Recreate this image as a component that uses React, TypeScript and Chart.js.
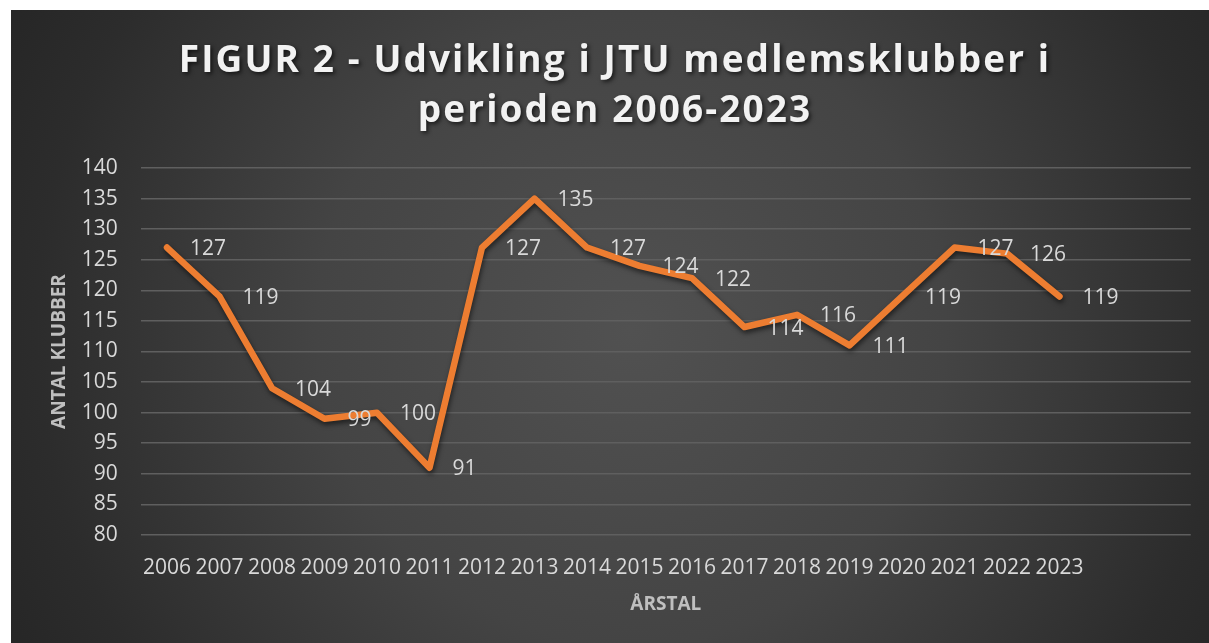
import React, { useEffect, useRef } from 'react';
import { Chart, registerables } from 'chart.js';

Chart.register(...registerables);

// ---- data ----
const years: string[] = [
  '2006', '2007', '2008', '2009', '2010', '2011', '2012', '2013', '2014',
  '2015', '2016', '2017', '2018', '2019', '2020', '2021', '2022', '2023', '', '',
];
const clubs: (number | null)[] = [
  127, 119, 104, 99, 100, 91, 127, 135, 127, 124, 122, 114, 116, 111, 119, 127, 126, 119, null, null,
];
const yMin = 80;
const yMax = 140;
const yStep = 5;
const titleLines: string[] = ['FIGUR 2 - Udvikling i JTU medlemsklubber i', 'perioden 2006-2023'];
const yTitle = 'ANTAL KLUBBER';
const xTitle = 'ÅRSTAL';

const FONT = "'Open Sans', 'Noto Sans', sans-serif";

const bgPlugin = {
  id: 'bgGradient',
  beforeDraw(chart: any) {
    const { ctx, width, height } = chart;
    ctx.save();
    const g = ctx.createRadialGradient(620, 320, 0, 620, 320, 700);
    g.addColorStop(0, '#515151');
    g.addColorStop(0.45, '#444444');
    g.addColorStop(0.85, '#2c2c2c');
    g.addColorStop(1, '#262626');
    ctx.fillStyle = g;
    ctx.fillRect(0, 0, width, height);
    ctx.restore();
  },
};

const titlePlugin = {
  id: 'spacedTitle',
  afterDraw(chart: any) {
    const { ctx } = chart;
    ctx.save();
    ctx.font = `bold 37px ${FONT}`;
    (ctx as any).letterSpacing = '2.1px';
    ctx.textAlign = 'center';
    ctx.textBaseline = 'alphabetic';
    ctx.fillStyle = '#f2f2f2';
    ctx.shadowColor = 'rgba(0,0,0,0.65)';
    ctx.shadowBlur = 4;
    ctx.shadowOffsetX = 2;
    ctx.shadowOffsetY = 2;
    const baselines = [62, 112];
    titleLines.forEach((line, i) => {
      ctx.fillText(line, 604, baselines[i]);
    });
    ctx.restore();
  },
};

const shadowPlugin = {
  id: 'lineShadow',
  beforeDatasetsDraw(chart: any) {
    const ctx = chart.ctx;
    ctx.save();
    ctx.shadowColor = 'rgba(0,0,0,0.55)';
    ctx.shadowBlur = 5;
    ctx.shadowOffsetX = 1;
    ctx.shadowOffsetY = 3;
  },
  afterDatasetsDraw(chart: any) {
    chart.ctx.restore();
  },
};

const labelPlugin = {
  id: 'valueLabels',
  afterDatasetsDraw(chart: any) {
    const { ctx } = chart;
    const meta = chart.getDatasetMeta(0);
    const data = chart.data.datasets[0].data as (number | null)[];
    ctx.save();
    ctx.font = `21px ${FONT}`;
    ctx.fillStyle = '#d9d9d9';
    ctx.textAlign = 'left';
    ctx.textBaseline = 'middle';
    meta.data.forEach((pt: any, i: number) => {
      const v = data[i];
      if (v === null || v === undefined) return;
      ctx.fillText(String(v), pt.x + 23, pt.y + 1.5);
    });
    ctx.restore();
  },
};

export default function App() {
  const ref = useRef<HTMLCanvasElement | null>(null);

  useEffect(() => {
    if (!ref.current) return;
    const chart = new Chart(ref.current, {
      type: 'line',
      data: {
        labels: years,
        datasets: [
          {
            data: clubs,
            borderColor: '#ed7d31',
            borderWidth: 6.5,
            borderCapStyle: 'round',
            borderJoinStyle: 'round',
            pointRadius: 0,
            pointHoverRadius: 0,
            tension: 0,
            spanGaps: false,
            fill: false,
          },
        ],
      },
      options: {
        animation: false,
        responsive: false,
        devicePixelRatio: 1,
        layout: { padding: { top: 158, right: 18.25, bottom: 0, left: 0 } },
        plugins: {
          legend: { display: false },
          title: { display: false },
          tooltip: { enabled: false },
        },
        scales: {
          x: {
            type: 'category',
            offset: true,
            grid: { display: false, drawTicks: false },
            border: { display: false },
            ticks: {
              color: '#d9d9d9',
              font: { family: FONT, size: 21 },
              padding: 20,
              maxRotation: 0,
              autoSkip: false,
            },
            title: {
              display: true,
              text: xTitle,
              color: '#bfbfbf',
              font: { family: FONT, size: 19, weight: 'bold' },
              padding: { top: 0, bottom: 26.6 },
            },
            afterFit(scale: any) {
              scale.height = 108;
            },
          },
          y: {
            min: yMin,
            max: yMax,
            grid: { color: '#5f5f5f', lineWidth: 1.6, drawTicks: false },
            border: { display: false },
            ticks: {
              stepSize: yStep,
              color: '#d9d9d9',
              font: { family: FONT, size: 21 },
              padding: 23,
            },
            title: {
              display: true,
              text: yTitle,
              color: '#bfbfbf',
              font: { family: FONT, size: 19, weight: 'bold' },
              padding: { top: 37.6, bottom: 0 },
            },
            afterFit(scale: any) {
              scale.width = 129.75;
            },
          },
        },
      },
      plugins: [bgPlugin, shadowPlugin, labelPlugin, titlePlugin],
    });
    return () => chart.destroy();
  }, []);

  return (
    <div style={{ position: 'fixed', left: 11, top: 10, width: 1198, height: 633 }}>
      <canvas ref={ref} width={1198} height={633} style={{ display: 'block', width: 1198, height: 633 }} />
    </div>
  );
}
